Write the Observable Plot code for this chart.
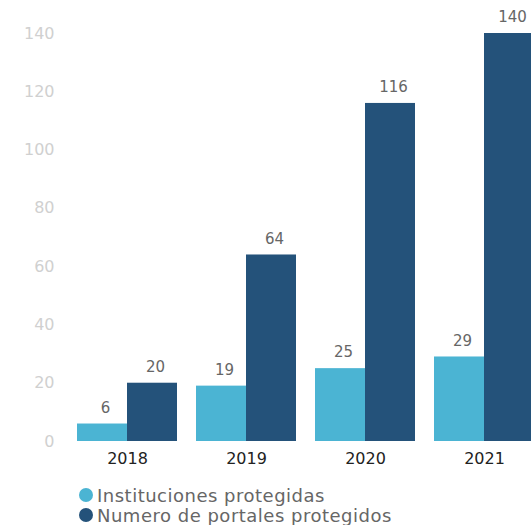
<!DOCTYPE html>
<html>
<head>
<meta charset="utf-8">
<script src="https://cdn.jsdelivr.net/npm/d3@7"></script>
<script src="https://cdn.jsdelivr.net/npm/@observablehq/plot@0.6"></script>
<style>
  html, body { margin: 0; padding: 0; background: #fff; overflow: hidden; }
  #wrap { width: 531px; overflow: hidden; font-family: "DejaVu Sans", Verdana, sans-serif; }
  #chart svg { max-width: none !important; }
  #legend { padding-top: 7px; padding-left: 79px; }
  .row { display: flex; align-items: center; height: 20px; }
  .dot { width: 14px; height: 14px; border-radius: 50%; margin-right: 4px; flex: none; }
  .lab { font-size: 18px; letter-spacing: 0.5px; color: #666; white-space: nowrap; }
</style>
</head>
<body>
<div id="wrap"><div id="chart"></div><div id="legend"></div></div>
<script>
const years = ["2018", "2019", "2020", "2021"];
const instituciones = [6, 19, 25, 29];
const portales = [20, 64, 116, 140];
const seriesNames = ["Instituciones protegidas", "Numero de portales protegidos"];
const colors = ["#4bb4d3", "#24527a"];
const yTicks = [0, 20, 40, 60, 80, 100, 120, 140];

const data = years.flatMap((y, i) => [
  {year: y, series: seriesNames[0], value: instituciones[i]},
  {year: y, series: seriesNames[1], value: portales[i]}
]);

const chart = Plot.plot({
  width: 552,
  height: 478,
  marginLeft: 60,
  marginRight: 0,
  marginTop: 33,
  marginBottom: 37,
  style: {fontFamily: "DejaVu Sans, Verdana, sans-serif", background: "#fff", maxWidth: "none"},
  fx: {domain: years, paddingInner: 0.157, paddingOuter: 0.14, label: null},
  x: {domain: seriesNames, axis: null, padding: 0},
  y: {domain: [0, 140], label: null},
  color: {domain: seriesNames, range: colors},
  marks: [
    Plot.axisY({ticks: yTicks, tickSize: 0, tickPadding: 23, label: null, color: "#d0d0d0", fontSize: 16}),
    Plot.axisFx({anchor: "bottom", tickSize: 0, tickPadding: 11, label: null, color: "#222", fontSize: 16}),
    Plot.barY(data, {fx: "year", x: "series", y: "value", fill: "series"}),
    Plot.text(data, {fx: "year", x: "series", y: "value", text: d => String(d.value), dy: -16, dx: 3, fill: "#666", fontSize: 15})
  ]
});
document.getElementById("chart").appendChild(chart);

const legend = document.getElementById("legend");
seriesNames.forEach((name, i) => {
  const row = document.createElement("div");
  row.className = "row";
  const dot = document.createElement("span");
  dot.className = "dot";
  dot.style.background = colors[i];
  const lab = document.createElement("span");
  lab.className = "lab";
  lab.textContent = name;
  row.appendChild(dot);
  row.appendChild(lab);
  legend.appendChild(row);
});
</script>
</body>
</html>
